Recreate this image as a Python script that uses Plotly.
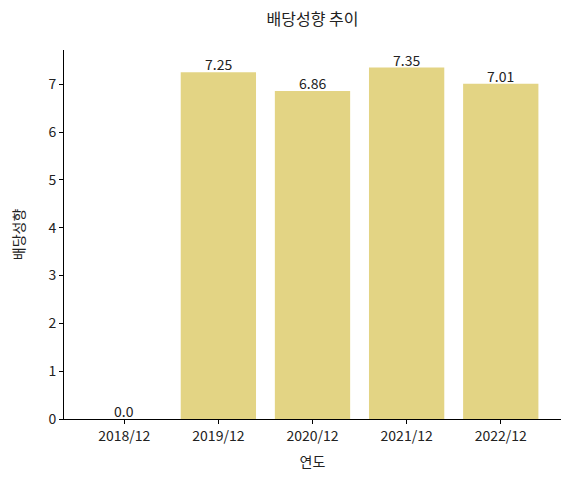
import plotly.graph_objects as go

# 연도별 배당성향 데이터
years = ['2018/12', '2019/12', '2020/12', '2021/12', '2022/12']
payout = [0.0, 7.25, 6.86, 7.35, 7.01]
labels = ['0.0', '7.25', '6.86', '7.35', '7.01']
y_ticks = [0, 1, 2, 3, 4, 5, 6, 7]

FONT = 'Noto Sans CJK KR'
BAR_COLOR = '#e3d484'

# 페이지 body 기본 여백(8px)을 감안해서 크기를 조금 줄임
W, H = 562, 471

fig = go.Figure()

fig.add_trace(go.Bar(
    x=years,
    y=payout,
    width=0.8,
    marker=dict(color=BAR_COLOR, line=dict(width=0)),
    hovertemplate='%{x}<br>배당성향: %{y:.2f}<extra></extra>',
))

# 막대 위 값 표시 (matplotlib bar_label 처럼 막대 바로 위)
for yr, val, lab in zip(years, payout, labels):
    fig.add_annotation(
        x=yr, y=val, text=lab,
        showarrow=False, yanchor='bottom', yshift=-4,
        font=dict(family=FONT, size=14, color='#222222'),
    )

fig.update_layout(
    width=W,
    height=H,
    margin=dict(l=56, r=9, t=42, b=60, autoexpand=False),
    paper_bgcolor='white',
    plot_bgcolor='white',
    font=dict(family=FONT, size=14, color='#222222'),
    title=dict(text='배당성향 추이', x=304.5 / W, xanchor='center',
               y=1 - 11 / H, yanchor='middle', yref='container',
               font=dict(family=FONT, size=16, color='#222222')),
    showlegend=False,
)

fig.update_xaxes(
    type='category',
    range=[-0.64, 4.64],
    automargin=False,
    showline=True, linecolor='black', linewidth=1,
    ticks='outside', ticklen=4, tickcolor='black',
    showgrid=False, zeroline=False,
    title=dict(text='연도', standoff=13, font=dict(size=14)),
    tickfont=dict(size=14),
)
fig.update_yaxes(
    range=[0, 7.7175],
    tickvals=y_ticks,
    automargin=False,
    showline=True, linecolor='black', linewidth=1,
    ticks='outside', ticklen=4, tickcolor='black',
    showgrid=False, zeroline=False,
    title=dict(text='배당성향', standoff=34, font=dict(size=14)),
    tickfont=dict(size=14),
)

fig.write_html('out.html')
